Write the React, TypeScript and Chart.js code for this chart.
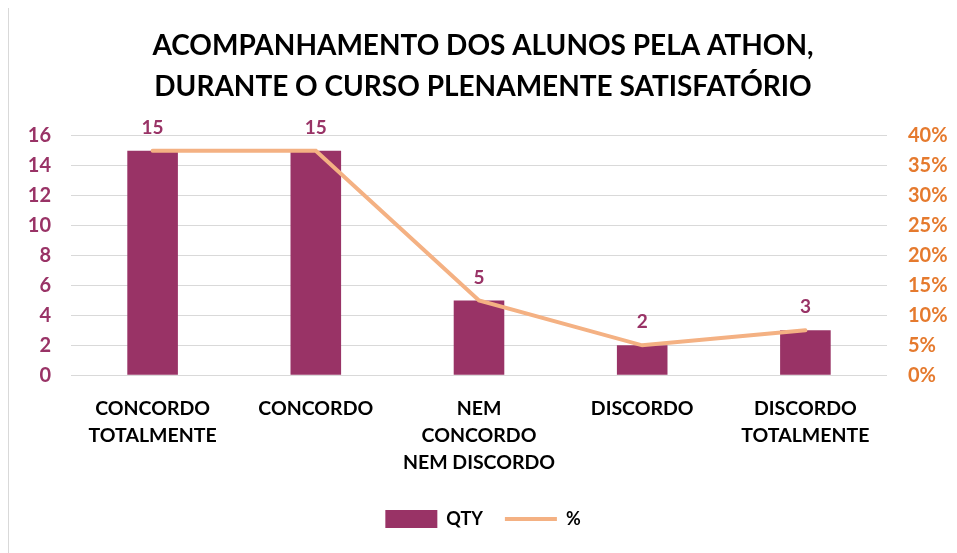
import React, { useEffect, useRef } from "react";
import { Chart, registerables } from "chart.js";

Chart.register(...registerables);

const categories: string[][] = [
  ["CONCORDO", "TOTALMENTE"],
  ["CONCORDO"],
  ["NEM", "CONCORDO", "NEM DISCORDO"],
  ["DISCORDO"],
  ["DISCORDO", "TOTALMENTE"],
];
const qty: number[] = [15, 15, 5, 2, 3];
const pct: number[] = [37.5, 37.5, 12.5, 5, 7.5];
const titleLines: string[] = [
  "ACOMPANHAMENTO DOS ALUNOS PELA ATHON,",
  "DURANTE O CURSO PLENAMENTE SATISFATÓRIO",
];

const FONT = "Lato, 'Open Sans', sans-serif";
const BAR = "#993366";
const LINE = "#F4B183";
const ORANGE = "#E57A2E";

const barLabels = {
  id: "barLabels",
  afterDatasetsDraw(chart: any) {
    const meta = chart.getDatasetMeta(0);
    const ctx = chart.ctx;
    ctx.save();
    ctx.font = `bold 19px ${FONT}`;
    ctx.fillStyle = BAR;
    ctx.textAlign = "center";
    ctx.textBaseline = "middle";
    meta.data.forEach((el: any, i: number) => {
      ctx.fillText(String(qty[i]), el.x, el.y - 23);
    });
    ctx.restore();
  },
};

export default function App() {
  const ref = useRef<HTMLCanvasElement>(null);
  useEffect(() => {
    if (!ref.current) return;
    const chart = new Chart(ref.current, {
      type: "bar",
      data: {
        labels: categories,
        datasets: [
          {
            type: "bar",
            label: "QTY",
            data: qty,
            backgroundColor: BAR,
            borderWidth: 0,
            yAxisID: "y",
            order: 2,
            categoryPercentage: 1,
            barPercentage: 0.31,
            pointStyle: "rect",
          } as any,
          {
            type: "line",
            label: "%",
            data: pct,
            borderColor: LINE,
            backgroundColor: LINE,
            borderWidth: 4,
            borderCapStyle: "round",
            pointRadius: 0,
            pointStyle: "line",
            tension: 0,
            yAxisID: "y1",
            order: 1,
          } as any,
        ],
      },
      options: {
        animation: false,
        responsive: true,
        maintainAspectRatio: false,
        layout: { padding: { left: 0, right: 0, top: 0, bottom: 15 } },
        plugins: {
          title: {
            display: true,
            text: titleLines,
            color: "#000",
            font: { family: FONT, size: 28, weight: "bold", lineHeight: 1.46 },
            padding: { top: 19, bottom: 28 },
          },
          legend: {
            position: "bottom",
            labels: {
              usePointStyle: true,
              pointStyleWidth: 52,
              boxHeight: 20,
              color: "#000",
              font: { family: FONT, size: 18, weight: "bold" },
              padding: 22,
              sort: (a: any, b: any) => a.datasetIndex - b.datasetIndex,
            },
          },
          tooltip: { enabled: false },
        },
        scales: {
          x: {
            grid: { display: false },
            border: { display: false },
            ticks: {
              color: "#000",
              font: { family: FONT, size: 19.5, weight: "bold", lineHeight: 1.38 },
              maxRotation: 0,
              autoSkip: false,
              padding: 12,
            },
            afterFit: (s: any) => {
              s.paddingLeft = 0;
              s.paddingRight = 0;
            },
          },
          y: {
            position: "left",
            min: 0,
            max: 16,
            ticks: {
              stepSize: 2,
              color: BAR,
              font: { family: FONT, size: 20, weight: "bold" },
              padding: 20,
            },
            grid: { color: "#d9d9d9", drawTicks: false },
            border: { display: false },
            afterFit: (s: any) => {
              s.width = 62;
            },
          },
          y1: {
            position: "right",
            min: 0,
            max: 40,
            ticks: {
              stepSize: 5,
              color: ORANGE,
              font: { family: FONT, size: 20, weight: "bold" },
              padding: 21,
              callback: (v: any) => v + "%",
            },
            grid: { display: false, drawTicks: false },
            border: { display: false },
            afterFit: (s: any) => {
              s.width = 70;
            },
          },
        },
      },
      plugins: [barLabels],
    });
    return () => chart.destroy();
  }, []);
  return (
    <div
      style={{
        width: 949,
        height: 547,
        marginTop: -2,
        boxSizing: "border-box",
        borderTop: "1px solid #d9d9d9",
        borderLeft: "1px solid #d9d9d9",
        position: "relative",
        background: "#fff",
      }}
    >
      <canvas ref={ref} />
    </div>
  );
}
